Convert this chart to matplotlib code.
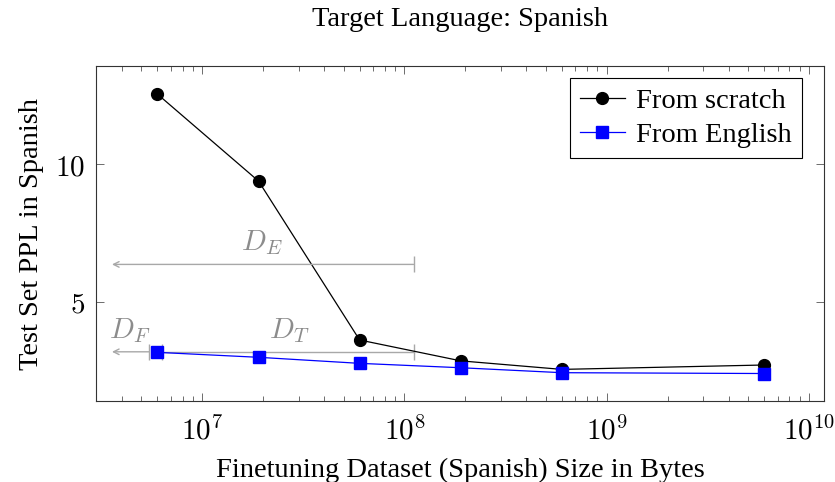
import matplotlib
matplotlib.use("Agg")
import matplotlib.pyplot as plt
from matplotlib.ticker import LogLocator, NullFormatter, FixedLocator

sizes = [6e6, 1.9e7, 6e7, 1.9e8, 6e8, 6e9]
scratch = [12.56, 9.39, 3.61, 2.85, 2.54, 2.70]
english = [3.16, 2.98, 2.76, 2.60, 2.42, 2.39]

plt.rcParams['mathtext.fontset'] = 'cm'
serif = 'Liberation Serif'
gray = '#8c8c8c'
lgray = '#a8a8a8'
FS = 20.5

fig = plt.figure(figsize=(8.35, 4.82), dpi=100)
ax = fig.add_axes([96/835, 1-401/482, (824-96)/835, (401-66)/482])

ax.plot(sizes, scratch, color='black', lw=0.9, marker='o', ms=8.5, label='From scratch', zorder=3)
ax.plot(sizes, english, color='blue', lw=0.9, marker='s', ms=8.3, label='From English', zorder=3)

ax.set_xscale('log')
ax.set_xlim(10**6.475, 10**10.074)
ax.set_ylim(1.39, 13.58)
ax.set_yticks([5, 10])
ax.set_yticklabels([r'$5$', r'$10$'])
ax.xaxis.set_major_locator(FixedLocator([1e7, 1e8, 1e9, 1e10]))
ax.set_xticklabels([r'$10^{7}$', r'$10^{8}$', r'$10^{9}$', r'$10^{10}$'])
ax.xaxis.set_minor_locator(LogLocator(base=10, subs=range(2, 10), numticks=20))
ax.xaxis.set_minor_formatter(NullFormatter())
ax.tick_params(which='both', direction='in', top=True, right=True, color='#555555', width=0.6)
ax.tick_params(which='major', length=6, labelsize=21)
ax.tick_params(axis='x', which='major', pad=11)
ax.tick_params(axis='y', which='major', pad=8)
ax.tick_params(which='minor', length=3.5)
for s in ax.spines.values():
    s.set_linewidth(0.8)
    s.set_color('#333333')

# Annotations
yE = 6.36
ax.annotate('', xy=(10**6.554, yE), xytext=(10**8.045, yE),
            arrowprops=dict(arrowstyle='->', color=lgray, lw=1.0, shrinkA=0, shrinkB=0))
ax.plot([10**8.045], [yE], marker='|', ms=11, color=lgray, mew=1.0)
ax.text(10**7.297, 7.14, r'$D_E$', color=gray, fontsize=21, ha='center', va='center')

yT = 3.18
ax.annotate('', xy=(10**6.554, yT), xytext=(10**6.738, yT),
            arrowprops=dict(arrowstyle='->', color=lgray, lw=1.0, shrinkA=0, shrinkB=0), zorder=1)
ax.plot([10**6.80, 10**8.045], [yT, yT], color=lgray, lw=1.0, zorder=1)
ax.plot([10**6.738, 10**6.80, 10**8.045], [yT] * 3, ls='none', marker='|', ms=11,
        color=lgray, mew=1.0, zorder=1)
ax.text(10**6.644, 3.97, r'$D_F$', color=gray, fontsize=21, ha='center', va='center')
ax.text(10**7.431, 3.97, r'$D_T$', color=gray, fontsize=21, ha='center', va='center')

leg = ax.legend(loc='upper right', bbox_to_anchor=(0.970, 0.964),
                prop={'family': serif, 'size': FS}, frameon=True,
                fancybox=False, edgecolor='black', handlelength=1.6, borderpad=0.35,
                labelspacing=0.3, handletextpad=0.4, borderaxespad=0.0, framealpha=1)
leg.get_frame().set_linewidth(0.8)

ax.set_xlabel('Finetuning Dataset (Spanish) Size in Bytes', family=serif, fontsize=FS, labelpad=9)
ax.set_ylabel('Test Set PPL in Spanish', family=serif, fontsize=FS, labelpad=8)
fig.text(460/835, 1-19/482, 'Target Language: Spanish', family=serif, fontsize=FS,
         ha='center', va='center')

fig.savefig('out.png', dpi=100)
